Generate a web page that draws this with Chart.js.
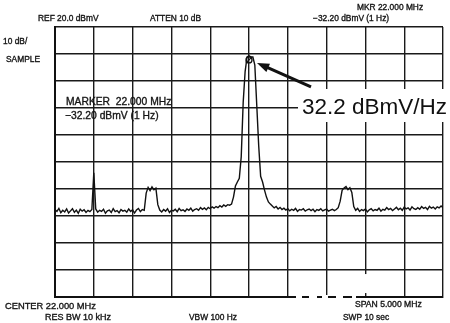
<!DOCTYPE html>
<html>
<head>
<meta charset="utf-8">
<script src="https://cdn.jsdelivr.net/npm/chart.js@4.4.1/dist/chart.umd.min.js"></script>
<style>
  html, body { margin: 0; padding: 0; background: #fff; }
  #wrap { position: relative; width: 450px; height: 323px; overflow: hidden; }
  canvas { display: block; }
</style>
</head>
<body>
<div id="wrap"><canvas id="c" width="450" height="323"></canvas></div>
<script>
// ---- Sweep settings ----
const START_MHZ = 19.5;      // CENTER 22.000 MHz - SPAN/2
const STOP_MHZ = 24.5;       // CENTER 22.000 MHz + SPAN/2
const STEP_MHZ = 0.025;      // trace sample spacing
const REF_DBMV = 20;         // REF 20.0 dBmV
const BOTTOM_DBMV = -80;     // 10 dB/div x 10 div
const DB_PER_DIV = 10;
const MARKER_MHZ = 22.0;

// ---- Trace levels (dBmV), one per sample ----
const traceLevels = [
  -47.6,-48.3,-47.2,-48.8,-47.9,-48.5,-47.4,-48.9,-48.1,-47.3,
  -48.6,-47.8,-49.0,-47.5,-48.2,-47.7,-48.7,-47.9,-48.4,-47.6,
  -34.0,
  -47.4,-48.6,-47.9,-48.3,-47.5,-49.0,-48.1,-47.8,-48.7,-47.3,
  -48.4,-48.0,-48.8,-47.6,-48.2,-47.9,-48.6,-47.4,-48.3,-47.7,
  -48.9,-47.8,-47.2,-48.4,-47.6,-47.9,
  -41.5,-39.4,-40.6,-39.2,-40.3,-39.7,-45.8,
  -47.8,-48.5,-47.6,-48.2,-47.3,-48.7,-47.9,-48.1,-47.5,-48.4,
  -47.2,-48.0,-47.7,-48.3,-47.4,-47.9,-47.1,-48.2,-47.6,-47.3,
  -47.9,-46.9,-47.5,-47.0,-47.7,-46.8,-47.3,-46.6,-47.1,-46.5,
  -46.9,-46.2,-46.7,-45.9,-46.4,-45.8,
  -46.0,-45.6,-43.0,-38.9,-37.4,-36.0,-28.0,-8.0,3.5,8.9,
  9.3,8.9,8.9,5.9,-9.0,-24.0,-35.3,-37.4,-40.4,-43.0,-44.8,-45.6,
  -46.3,-47.0,-46.5,-47.4,-46.8,-47.6,-47.1,-47.8,-47.3,-48.1,
  -47.5,-47.9,-47.2,-48.3,-47.6,-47.8,-47.3,-48.2,-47.7,-47.4,
  -48.0,-47.5,-48.4,-47.6,-47.9,-47.3,-48.1,-47.7,-47.4,-48.2,
  -47.8,-47.5,-48.0,-47.6,-46.9,-44.5,
  -40.5,-39.6,-39.1,-40.2,-39.5,-41.3,-46.5,
  -47.9,-47.2,-48.3,-47.6,-48.0,-47.4,-48.5,-47.7,-47.3,-48.1,
  -47.6,-47.9,-47.1,-48.2,-47.5,-47.8,-46.9,-47.6,-47.2,-48.0,
  -47.4,-46.8,-47.7,-47.1,-47.9,-46.7,-47.4,-47.0,-47.8,-46.6,
  -47.3,-47.6,-46.9,-47.5,-46.5,-47.2,-46.8,-47.6,-46.4,-47.1,
  -46.7,-47.4,-46.6,-47.0,-46.3,-46.9
];

// sample frequencies of the sweep (the analyzer's x grid)
const traceFreqs = traceLevels.map((_, i) => +(START_MHZ + i * STEP_MHZ).toFixed(3));

// ---- Screen annotations ----
const headerTexts = [
  { t: 'REF 20.0 dBmV', x: 38, y: 21, s: 8.4 },
  { t: 'ATTEN 10 dB', x: 150, y: 21, s: 8.4 },
  { t: 'MKR 22.000 MHz', x: 357, y: 10, s: 8.4 },
  { t: '\u221232.20 dBmV (1 Hz)', x: 313, y: 21, s: 8.4 },
  { t: '10 dB/', x: 3, y: 44, s: 8.4 },
  { t: 'SAMPLE', x: 6, y: 62, s: 8.4 },
  { t: 'CENTER 22.000 MHz', x: 5, y: 309, s: 9.3 },
  { t: 'RES BW 10 kHz', x: 45, y: 320, s: 9 },
  { t: 'VBW 100 Hz', x: 189, y: 320, s: 8.4 },
  { t: 'SPAN 5.000 MHz', x: 355, y: 307, s: 8.6 },
  { t: 'SWP 10 sec', x: 343, y: 320, s: 8.4 }
];
const markerTexts = [
  { t: 'MARKER  22.000 MHz', x: 66, y: 105, s: 10.3 },
  { t: '\u221232.20 dBmV (1 Hz)', x: 65, y: 119, s: 10.3 }
];
const calloutText = '32.2 dBmV/Hz';

const FONT = '"Liberation Sans", Arial, Helvetica, sans-serif';

function inkText(ctx, o) {
  ctx.font = o.s + 'px ' + FONT;
  ctx.fillText(o.t, o.x, o.y);
  ctx.strokeText(o.t, o.x, o.y);
}

const annotations = {
  id: 'annotations',
  afterDraw(chart) {
    const ctx = chart.ctx;
    const xs = chart.scales.x, ys = chart.scales.y;
    const a = chart.chartArea;
    ctx.save();

    // worn patches of the photographed screen (bottom-right corner)
    ctx.fillStyle = '#fff';
    ctx.fillRect(xs.getPixelForValue(23.5) - 3, ys.getPixelForValue(-71.5), 6, 19);
    [[296, 6], [309, 8], [322, 6], [336, 7], [352, 4]].forEach(g => ctx.fillRect(g[0], a.bottom - 2, g[1], 4));

    ctx.fillStyle = '#151515';
    ctx.strokeStyle = '#151515';
    ctx.lineWidth = 0.35;
    ctx.textBaseline = 'alphabetic';
    ctx.textAlign = 'left';
    headerTexts.forEach(o => inkText(ctx, o));
    markerTexts.forEach(o => inkText(ctx, o));

    // marker symbol at the peak
    const mi = traceFreqs.indexOf(MARKER_MHZ);
    const px = xs.getPixelForValue(MARKER_MHZ);
    const py = ys.getPixelForValue(traceLevels[mi]) + 4;
    ctx.strokeStyle = '#111';
    ctx.lineWidth = 1.3;
    ctx.beginPath();
    ctx.arc(px, py, 3, 0, Math.PI * 2);
    ctx.stroke();
    ctx.beginPath();
    ctx.moveTo(px - 3, py + 3); ctx.lineTo(px + 3, py - 3);
    ctx.stroke();

    // callout box with big text
    ctx.fillStyle = '#fff';
    ctx.fillRect(298, 89, 152, 33);
    ctx.fillStyle = '#111';
    ctx.font = '22.5px ' + FONT;
    ctx.fillText(calloutText, 302, 114);

    // arrow pointing at the marker
    const hx = px + 8, hy = py + 3;
    const tx = hx + 54, ty = hy + 24;
    const ang = Math.atan2(hy - ty, hx - tx);
    ctx.strokeStyle = '#111';
    ctx.lineWidth = 3;
    ctx.beginPath();
    ctx.moveTo(tx, ty);
    ctx.lineTo(hx + 8 * Math.cos(ang + Math.PI), hy + 8 * Math.sin(ang + Math.PI));
    ctx.stroke();
    ctx.beginPath();
    ctx.moveTo(hx, hy);
    ctx.lineTo(hx - 13 * Math.cos(ang - 0.35), hy - 13 * Math.sin(ang - 0.35));
    ctx.lineTo(hx - 13 * Math.cos(ang + 0.35), hy - 13 * Math.sin(ang + 0.35));
    ctx.closePath();
    ctx.fillStyle = '#111';
    ctx.fill();
    ctx.restore();
  }
};

new Chart(document.getElementById('c'), {
  type: 'line',
  data: {
    datasets: [{
      data: traceFreqs.map((f, i) => ({ x: f, y: traceLevels[i] })),
      borderColor: '#111',
      borderWidth: 1.4,
      pointRadius: 0,
      tension: 0,
      fill: false
    }]
  },
  options: {
    responsive: false,
    animation: false,
    devicePixelRatio: 1,
    layout: { padding: { left: 55, right: 7, top: 27, bottom: 26 } },
    plugins: { legend: { display: false }, tooltip: { enabled: false }, title: { display: false } },
    scales: {
      x: {
        type: 'linear',
        min: START_MHZ, max: STOP_MHZ,
        ticks: { display: false, stepSize: 0.5 },
        grid: { color: '#1a1a1a', lineWidth: 1.4, drawTicks: false },
        border: { display: true, color: '#111', width: 2 }
      },
      y: {
        min: BOTTOM_DBMV, max: REF_DBMV,
        ticks: { display: false, stepSize: DB_PER_DIV },
        grid: { color: '#1a1a1a', lineWidth: 1.4, drawTicks: false },
        border: { display: true, color: '#111', width: 2 }
      }
    }
  },
  plugins: [annotations]
});
</script>
</body>
</html>
